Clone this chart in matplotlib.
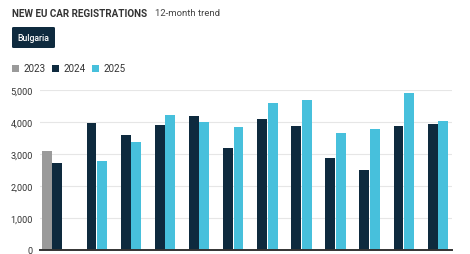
import numpy as np
import matplotlib.pyplot as plt
from matplotlib.patches import Rectangle, FancyBboxPatch

plt.rcParams['font.family'] = ['Roboto', 'DejaVu Sans']

months = list(range(12))
years = ['2023', '2024', '2025']
vals_2023 = [3100, np.nan, np.nan, np.nan, np.nan, np.nan, np.nan, np.nan, np.nan, np.nan, np.nan, np.nan]
vals_2024 = [2730, 3980, 3580, 3900, 4190, 3200, 4080, 3880, 2890, 2500, 3860, 3930]
vals_2025 = [np.nan, 2780, 3390, 4220, 4000, 3840, 4600, 4700, 3670, 3790, 4920, 4030]
colors = ['#9a9a9a', '#0e2a3e', '#47c0dc']

fig = plt.figure(figsize=(4.7, 2.55), dpi=100)
ax = fig.add_axes([40 / 470, 4 / 255, 412 / 470, 160 / 255])

x = np.arange(len(months))
w = 0.29
for off, v, c in zip([-0.31, 0, 0.31], [vals_2023, vals_2024, vals_2025], colors):
    ax.bar(x + off, v, width=w, color=c, zorder=3)

ax.set_xlim(-0.51, 11.57)
ax.set_ylim(0, 5000)
ax.set_yticks([0, 1000, 2000, 3000, 4000, 5000])
ax.set_yticklabels(['0', '1,000', '2,000', '3,000', '4,000', '5,000'])
ax.set_xticks([])
ax.tick_params(axis='y', length=0, labelsize=6.6, labelcolor='#333333', pad=5)
ax.grid(axis='y', color='#e6e6e6', linewidth=0.8, zorder=0)
for s in ['top', 'right', 'left']:
    ax.spines[s].set_visible(False)
ax.spines['bottom'].set_color('#333333')
ax.spines['bottom'].set_linewidth(1.4)
ax.spines['bottom'].set_zorder(4)

# header
fig.text(12 / 470, 1 - 14 / 255, 'NEW EU CAR REGISTRATIONS', fontsize=7.1,
         fontweight='bold', color='#333333', va='center', ha='left')
fig.text(155 / 470, 1 - 14 / 255, '12-month trend', fontsize=6.8, color='#444444',
         va='center', ha='left')

# button
fig.patches.append(FancyBboxPatch((12 / 470, 1 - 49 / 255), 43 / 470, 21 / 255,
                                  boxstyle='round,pad=0,rounding_size=0.004',
                                  transform=fig.transFigure, facecolor='#0e2a3e',
                                  edgecolor='none'))
fig.text(33.5 / 470, 1 - 38.5 / 255, 'Bulgaria', fontsize=6.2, color='white',
         fontweight='medium', va='center', ha='center')

# legend
leg_x = [12, 52, 92]
for lx, yr, c in zip(leg_x, years, colors):
    fig.patches.append(Rectangle((lx / 470, 1 - 72.5 / 255), 7 / 470, 7 / 255,
                                 transform=fig.transFigure, facecolor=c, edgecolor='none'))
    fig.text((lx + 12) / 470, 1 - 69 / 255, yr, fontsize=7, color='#333333',
             va='center', ha='left')

fig.savefig('out.png', dpi=100)
